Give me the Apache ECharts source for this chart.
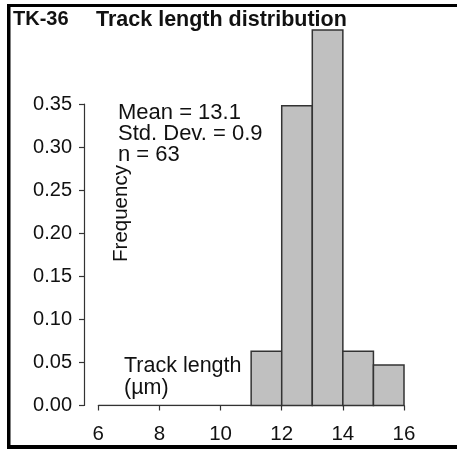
<!DOCTYPE html>
<html>
<head>
<meta charset="utf-8">
<script src="https://cdn.jsdelivr.net/npm/echarts@6/dist/echarts.min.js"></script>
<style>
  html, body { margin: 0; padding: 0; background: #fff; }
  #chart { width: 457px; height: 449px; }
</style>
</head>
<body>
<div id="chart"></div>
<script>
// Histogram bins (track length, µm) and their relative frequencies
const binStart = [11, 12, 13, 14, 15];
const binEnd = [12, 13, 14, 15, 16];
const frequency = [0.063, 0.348, 0.436, 0.063, 0.047];

// Empty bins below the first populated one, drawn as a flat outline at zero
const emptyRange = [6, 11];

// Summary statistics printed inside the plot
const statLines = ['Mean = 13.1', 'Std. Dev. = 0.9', 'n = 63'];
const sampleName = 'TK-36';
const chartTitle = 'Track length distribution';

const FONT = '"Liberation Sans", Arial, sans-serif';
const INK = '#111';

const binData = binStart.map((s, i) => [s, binEnd[i], frequency[i]]);

const chart = echarts.init(document.getElementById('chart'), null, { renderer: 'canvas' });

chart.setOption({
  animation: false,
  backgroundColor: '#fff',
  title: [
    { text: sampleName, left: 13, top: 9.5, padding: 0,
      textStyle: { fontFamily: FONT, fontWeight: 'bold', fontSize: 20, color: INK } },
    { text: chartTitle, left: 96, top: 9, padding: 0,
      textStyle: { fontFamily: FONT, fontWeight: 'bold', fontSize: 21.5, color: INK } }
  ],
  grid: [
    // frequency scale (axis only)
    { left: 84, top: 104, height: 301.5, width: 320 },
    // histogram area
    { left: 98.3, right: 53, top: 17.9, bottom: 43.5 }
  ],
  xAxis: [
    { gridIndex: 0, type: 'value', min: 0, max: 1, show: false },
    {
      gridIndex: 1, type: 'value', min: 6, max: 16, interval: 2,
      position: 'bottom', offset: 12.5,
      axisLine: { show: true, lineStyle: { color: '#333', width: 1.2 } },
      axisTick: { show: true, length: 5, inside: false, lineStyle: { color: '#333', width: 1.2 } },
      axisLabel: { margin: 6, fontFamily: FONT, fontSize: 20.5, color: INK },
      splitLine: { show: false }
    }
  ],
  yAxis: [
    {
      gridIndex: 0, type: 'value', min: 0, max: 0.35, interval: 0.05,
      axisLine: { show: true, lineStyle: { color: '#333', width: 1.2 } },
      axisTick: { show: true, length: 5, inside: false, lineStyle: { color: '#333', width: 1.2 } },
      axisLabel: { margin: 12, fontFamily: FONT, fontSize: 20, color: INK,
        formatter: v => v.toFixed(2) },
      splitLine: { show: false }
    },
    { gridIndex: 1, type: 'value', min: 0, max: 0.45, show: false }
  ],
  series: [
    {
      type: 'line', xAxisIndex: 1, yAxisIndex: 1,
      data: [[emptyRange[0], 0], [emptyRange[1], 0]],
      symbol: 'none', silent: true,
      lineStyle: { color: '#333', width: 1.5 }
    },
    {
      type: 'custom', xAxisIndex: 1, yAxisIndex: 1,
      data: binData,
      renderItem: function (params, api) {
        const topLeft = api.coord([api.value(0), api.value(2)]);
        const bottomRight = api.coord([api.value(1), 0]);
        return {
          type: 'rect',
          shape: {
            x: topLeft[0], y: topLeft[1],
            width: bottomRight[0] - topLeft[0],
            height: bottomRight[1] - topLeft[1]
          },
          style: { fill: '#c0c0c0', stroke: '#333', lineWidth: 1.5 }
        };
      }
    }
  ],
  graphic: [
    // border
    { type: 'rect', shape: { x: 7, y: 4, width: 450, height: 3 }, style: { fill: '#000' } },
    { type: 'rect', shape: { x: 7, y: 4, width: 3.5, height: 445 }, style: { fill: '#000' } },
    { type: 'rect', shape: { x: 7, y: 445, width: 450, height: 4 }, style: { fill: '#000' } },
    // summary statistics
    { type: 'text', x: 118, y: 102, style: {
        text: statLines.join('\n'), font: '22px ' + FONT, lineHeight: 21, fill: INK } },
    // axis names
    { type: 'text', x: 124, y: 355, style: {
        text: 'Track length\n(µm)', font: '21.5px ' + FONT, lineHeight: 22, fill: INK } },
    { type: 'text', x: 121, y: 213.5, rotation: Math.PI / 2, style: {
        text: 'Frequency', font: '20.5px ' + FONT, fill: INK,
        align: 'center', verticalAlign: 'middle' } }
  ]
});
</script>
</body>
</html>
